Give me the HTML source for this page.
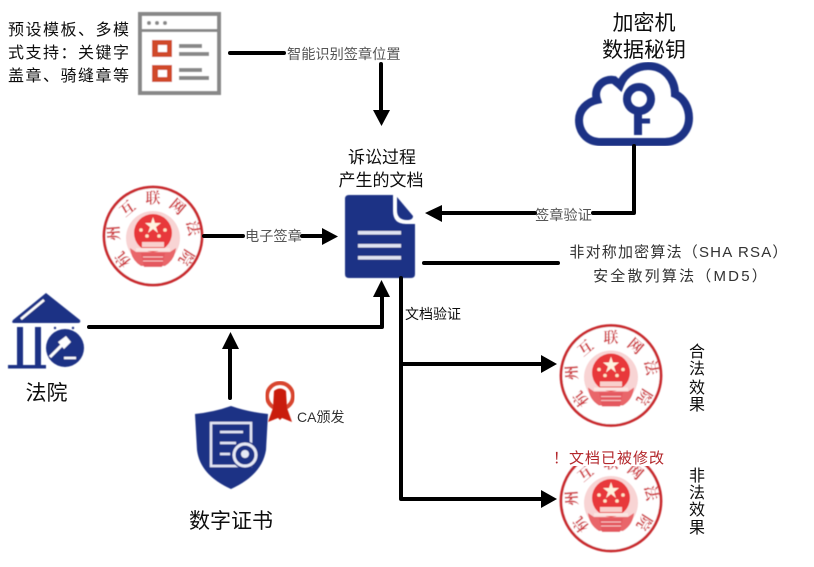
<!DOCTYPE html>
<html><head><meta charset="utf-8"><style>
html,body{margin:0;padding:0;background:#fff;width:814px;height:567px;overflow:hidden}
svg{display:block}
text{font-family:"Liberation Sans","Noto Sans CJK SC",sans-serif}
.s{font-family:"Noto Serif CJK SC",serif;font-weight:700;font-size:15px;fill:#cf3a40;text-anchor:middle}
</style></head><body>
<svg width="814" height="567" viewBox="0 0 814 567" xmlns="http://www.w3.org/2000/svg">
<defs>
<filter id="b" x="-5%" y="-5%" width="110%" height="110%"><feGaussianBlur stdDeviation="0.5"/></filter>
<filter id="t" x="-5%" y="-5%" width="110%" height="110%"><feGaussianBlur stdDeviation="0.3"/></filter>
</defs>

<!-- template icon -->
<g filter="url(#b)">
<rect x="140" y="14" width="79" height="79" fill="#fff" stroke="#888" stroke-width="4"/>
<rect x="140" y="29" width="79" height="3" fill="#888"/>
<circle cx="149" cy="23" r="2" fill="#888"/><circle cx="157" cy="23" r="2" fill="#888"/><circle cx="165" cy="23" r="2" fill="#888"/>
<rect x="152" y="40" width="20" height="17" fill="#d0492c"/><rect x="158" y="45" width="9" height="7" fill="#fff"/>
<rect x="152" y="65" width="20" height="17" fill="#d0492c"/><rect x="158" y="70" width="9" height="7" fill="#fff"/>
<rect x="179" y="44" width="23" height="4" fill="#888"/><rect x="179" y="52" width="30" height="4" fill="#888"/>
<rect x="179" y="68" width="23" height="4" fill="#888"/><rect x="179" y="76" width="30" height="4" fill="#888"/>
</g>

<!-- seals -->
<g transform="translate(153,236)" filter="url(#b)">
<circle r="49" fill="#fff" stroke="#c92a2e" stroke-width="2.8"/>
<circle cy="2" r="27" fill="#f8d4d4"/>
<circle cy="-3" r="19" fill="#e8383a"/>
<path d="M0,-19 L2,-13 L8,-13 L3,-9 L5,-3 L0,-7 L-5,-3 L-3,-9 L-8,-13 L-2,-13Z" fill="#fff3e0"/>
<circle cx="-12" cy="-6" r="1.8" fill="#ffe6c8"/><circle cx="12" cy="-6" r="1.8" fill="#ffe6c8"/>
<circle cx="-6" cy="0" r="1.8" fill="#ffe6c8"/><circle cx="6" cy="0" r="1.8" fill="#ffe6c8"/>
<rect x="-11" y="6" width="22" height="5" fill="#f9d0cc"/>
<rect x="-17" y="12" width="34" height="3" fill="#fbe6e2"/>
<path d="M-23,12 Q-22,24 -12,30 H12 Q22,24 23,12 L17,16 H-17Z" fill="#e9666a"/>
<path d="M-12,17 H12 L9,31 H-9Z" fill="#e4585e"/>
<path d="M-10,21 H10 M-10,25 H10" stroke="#f8c8c8" stroke-width="1"/>
<text class="s" transform="translate(0,-33)">联</text>
<text class="s" transform="translate(-26,-28) rotate(-40) translate(0,6)">互</text>
<text class="s" transform="translate(-40,-3) rotate(-94) translate(0,6)">州</text>
<text class="s" transform="translate(-31,24) rotate(-128) translate(0,6)">杭</text>
<text class="s" transform="translate(25,-30) rotate(40) translate(0,6)">网</text>
<text class="s" transform="translate(41,-8) rotate(80) translate(0,6)">法</text>
<text class="s" transform="translate(34,22) rotate(122) translate(0,6)">院</text>
</g>
<g transform="translate(611,375.5)" filter="url(#b)">
<circle r="50" fill="#fff" stroke="#c92a2e" stroke-width="2.8"/>
<circle cy="2" r="27" fill="#f8d4d4"/>
<circle cy="-3" r="19" fill="#e8383a"/>
<path d="M0,-19 L2,-13 L8,-13 L3,-9 L5,-3 L0,-7 L-5,-3 L-3,-9 L-8,-13 L-2,-13Z" fill="#fff3e0"/>
<circle cx="-12" cy="-6" r="1.8" fill="#ffe6c8"/><circle cx="12" cy="-6" r="1.8" fill="#ffe6c8"/>
<circle cx="-6" cy="0" r="1.8" fill="#ffe6c8"/><circle cx="6" cy="0" r="1.8" fill="#ffe6c8"/>
<rect x="-11" y="6" width="22" height="5" fill="#f9d0cc"/>
<rect x="-17" y="12" width="34" height="3" fill="#fbe6e2"/>
<path d="M-23,12 Q-22,24 -12,30 H12 Q22,24 23,12 L17,16 H-17Z" fill="#e9666a"/>
<path d="M-12,17 H12 L9,31 H-9Z" fill="#e4585e"/>
<path d="M-10,21 H10 M-10,25 H10" stroke="#f8c8c8" stroke-width="1"/>
<text class="s" transform="translate(0,-33)">联</text>
<text class="s" transform="translate(-26,-28) rotate(-40) translate(0,6)">互</text>
<text class="s" transform="translate(-40,-3) rotate(-94) translate(0,6)">州</text>
<text class="s" transform="translate(-31,24) rotate(-128) translate(0,6)">杭</text>
<text class="s" transform="translate(25,-30) rotate(40) translate(0,6)">网</text>
<text class="s" transform="translate(41,-8) rotate(80) translate(0,6)">法</text>
<text class="s" transform="translate(34,22) rotate(122) translate(0,6)">院</text>
</g>
<g transform="translate(611,501)" filter="url(#b)">
<circle r="50" fill="#fff" stroke="#c92a2e" stroke-width="2.8"/>
<circle cy="2" r="27" fill="#f8d4d4"/>
<circle cy="-3" r="19" fill="#e8383a"/>
<path d="M0,-19 L2,-13 L8,-13 L3,-9 L5,-3 L0,-7 L-5,-3 L-3,-9 L-8,-13 L-2,-13Z" fill="#fff3e0"/>
<circle cx="-12" cy="-6" r="1.8" fill="#ffe6c8"/><circle cx="12" cy="-6" r="1.8" fill="#ffe6c8"/>
<circle cx="-6" cy="0" r="1.8" fill="#ffe6c8"/><circle cx="6" cy="0" r="1.8" fill="#ffe6c8"/>
<rect x="-11" y="6" width="22" height="5" fill="#f9d0cc"/>
<rect x="-17" y="12" width="34" height="3" fill="#fbe6e2"/>
<path d="M-23,12 Q-22,24 -12,30 H12 Q22,24 23,12 L17,16 H-17Z" fill="#e9666a"/>
<path d="M-12,17 H12 L9,31 H-9Z" fill="#e4585e"/>
<path d="M-10,21 H10 M-10,25 H10" stroke="#f8c8c8" stroke-width="1"/>
<text class="s" transform="translate(0,-33)">联</text>
<text class="s" transform="translate(-26,-28) rotate(-40) translate(0,6)">互</text>
<text class="s" transform="translate(-40,-3) rotate(-94) translate(0,6)">州</text>
<text class="s" transform="translate(-31,24) rotate(-128) translate(0,6)">杭</text>
<text class="s" transform="translate(25,-30) rotate(40) translate(0,6)">网</text>
<text class="s" transform="translate(41,-8) rotate(80) translate(0,6)">法</text>
<text class="s" transform="translate(34,22) rotate(122) translate(0,6)">院</text>
</g>
<rect x="550" y="447" width="118" height="19" fill="#fff"/>

<!-- doc icon -->
<g filter="url(#b)">
<path d="M349,195 H393 V211 Q393,224 406,224 H415 V274 Q415,278 411,278 H349 Q345,278 345,274 V199 Q345,195 349,195Z" fill="#1d3185"/>
<path d="M397,197 L413,216 Q413,220 407,220 Q397,220 397,210Z" fill="#1d3185"/>
<rect x="358" y="231" width="43" height="3.5" fill="#dfe3f2"/>
<rect x="358" y="244" width="43" height="3.5" fill="#dfe3f2"/>
<rect x="358" y="256" width="43" height="3.5" fill="#dfe3f2"/>
</g>

<!-- cloud -->
<g filter="url(#b)" fill="none" stroke="#1d3185">
<path stroke-width="8" d="M601,142 C585,142 579,130 579,120 C579,110 587,102 597,100 C593,88 603,78 614,80 C616,82 618,83 620,85 C625,72 638,66 648,66 C665,66 675,80 675,94 C684,98 689,108 689,118 C689,132 678,142 665,142Z"/>
<circle cx="639" cy="99" r="12" stroke-width="8"/>
<path d="M638,110 V135" stroke-width="8"/>
<path d="M640,121 H650" stroke-width="5"/>
</g>

<!-- court -->
<g filter="url(#b)" fill="#1d3185">
<path d="M46,293 L80,320 Q81,323 78,323 H14 Q11,323 13,320Z"/>
<path d="M21,319 L44,300" stroke="#fff" stroke-width="2.5" fill="none"/>
<rect x="17" y="327" width="6" height="39"/><rect x="35" y="327" width="6" height="39"/>
<rect x="8" y="365" width="38" height="3.5"/>
<circle cx="55" cy="328" r="1.2"/><circle cx="73" cy="328" r="1.2"/>
<circle cx="65" cy="348" r="19"/>
<path d="M50,357 L63,344" stroke="#fff" stroke-width="3"/>
<path d="M58,342 L66,336 L71,342 L64,349Z" fill="#fff"/>
<path d="M64,358 H76" stroke="#fff" stroke-width="2.5"/>
</g>

<!-- shield -->
<g filter="url(#b)">
<path d="M231,406 Q248,412 268,414 L266,450 Q262,475 231,489 Q200,475 197,450 L195,414 Q214,412 231,406Z" fill="#1d3185"/>
<rect x="211" y="423" width="40" height="43" fill="none" stroke="#e6e9f5" stroke-width="2.5"/>
<path d="M220,432 H243 M220,443 H236 M220,454 H230" stroke="#e6e9f5" stroke-width="2.5"/>
<circle cx="245" cy="455" r="14" fill="#1d3185"/>
<circle cx="245" cy="455" r="11" fill="none" stroke="#e6e9f5" stroke-width="3"/>
<circle cx="245" cy="454" r="4" fill="#e6e9f5"/>
</g>
<!-- medal -->
<g filter="url(#b)">
<circle cx="280" cy="396" r="13" fill="none" stroke="#d8452e" stroke-width="4"/>
<path d="M274,391 Q280,386 286,391 L287,408 L292,422 L282,418 L280,420 L278,418 L268,422 L273,408Z" fill="#c91f10"/>
</g>

<!-- connectors -->
<g fill="none" stroke="#000" stroke-width="4" stroke-linecap="round" stroke-linejoin="round">
<path d="M230,53 H284"/>
<path d="M381,64 V111"/>
<path d="M204,236 H243 M302,236 H323"/>
<path d="M634,146 V213 H593 M535,213 H440"/>
<path d="M424,263 H558"/>
<path d="M89,327 H382 V295"/>
<path d="M230,398 V348"/>
<path d="M401,278 V499 H541 M401,364 H541"/>
</g>
<g fill="#000">
<path d="M373,110 H390 L381.500,126Z"/>
<path d="M322,228 L338,236.500 L322,245Z"/>
<path d="M442,205 L425,213 L442,222Z"/>
<path d="M373,297 L381.500,280 L390,297Z"/>
<path d="M222,349 L230.500,332 L239,349Z"/>
<path d="M541,355 L557,364 L541,373Z"/>
<path d="M541,490 L557,499 L541,508Z"/>
</g>

<!-- labels -->
<g filter="url(#t)">
<g font-size="16" fill="#111">
<text x="8" y="35" letter-spacing="1.5">预设模板、多模</text>
<text x="8" y="58" letter-spacing="1.5">式支持：关键字</text>
<text x="8" y="81" letter-spacing="1.5">盖章、骑缝章等</text>
</g>
<g font-size="17" fill="#111" text-anchor="middle">
<text x="382" y="163">诉讼过程</text>
<text x="381" y="186">产生的文档</text>
</g>
<g font-size="14.200" fill="#555">
<text x="287" y="59">智能识别签章位置</text>
<text x="245" y="241">电子签章</text>
<text x="535" y="220">签章验证</text>
</g>
<g font-size="21" fill="#111" text-anchor="middle">
<text x="644" y="30">加密机</text>
<text x="644" y="57">数据秘钥</text>
<text x="46.500" y="400">法院</text>
<text x="231" y="528">数字证书</text>
</g>
<g font-size="15" fill="#333" text-anchor="middle">
<text x="679" y="257" letter-spacing="1.2">非对称加密算法（SHA RSA）</text>
<text x="681" y="281" letter-spacing="2.2">安全散列算法（MD5）</text>
</g>
<text x="405" y="319" font-size="14" fill="#111">文档验证</text>
<text x="297" y="422" font-size="14" fill="#333">CA颁发</text>
<text x="553" y="463" font-size="15" fill="#b3282c" letter-spacing="1">！文档已被修改</text>
<g font-size="16" fill="#111" text-anchor="middle">
<text x="697" y="357">合</text><text x="697" y="374">法</text><text x="697" y="393">效</text><text x="697" y="410">果</text>
<text x="697" y="481">非</text><text x="697" y="498">法</text><text x="697" y="515">效</text><text x="697" y="533">果</text>
</g>
</g>
</svg>
</body></html>
